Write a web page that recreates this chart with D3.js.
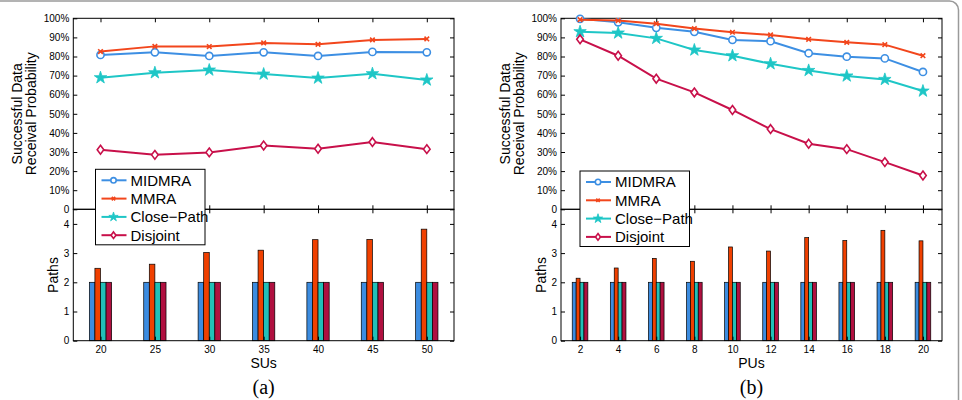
<!DOCTYPE html>
<html>
<head>
<meta charset="utf-8">
<script src="https://cdn.jsdelivr.net/npm/d3@7"></script>
<style>
  body { margin: 0; background: #fff; }
  svg { display: block; font-family: "Liberation Sans", Arial, sans-serif; }
  .axis text { font-size: 10px; fill: #000; }
  .axis path, .axis line { stroke: #000; stroke-width: 1; }
</style>
</head>
<body>
<script>
let width = 962,
    height = 400;

// categories
let suCats = [20, 25, 30, 35, 40, 45, 50];
let puCats = [2, 4, 6, 8, 10, 12, 14, 16, 18, 20];
let seriesNames = ["MIDMRA", "MMRA", "Close\u2212Path", "Disjoint"];

// (a) success probability vs SUs, in percent
let suMidmra   = [80.8, 82.2, 80.3, 82.2, 80.3, 82.4, 82.2];
let suMmra     = [82.6, 85.3, 85.2, 87.1, 86.4, 88.7, 89.2];
let suClose    = [68.9, 71.5, 72.9, 70.8, 68.7, 71.0, 67.7];
let suDisjoint = [31.2, 28.5, 29.8, 33.4, 31.7, 35.2, 31.5];
// (a) number of paths
let suPathsMidmra   = [2, 2, 2, 2, 2, 2, 2];
let suPathsMmra     = [2.48, 2.62, 3.02, 3.10, 3.46, 3.47, 3.82];
let suPathsClose    = [2, 2, 2, 2, 2, 2, 2];
let suPathsDisjoint = [2, 2, 2, 2, 2, 2, 2];

// (b) success probability vs PUs, in percent
let puMidmra   = [99.7, 97.9, 95.0, 92.9, 88.7, 88.0, 81.7, 79.9, 79.0, 71.9];
let puMmra     = [99.3, 98.8, 97.2, 94.6, 92.7, 91.3, 89.0, 87.4, 86.2, 80.4];
let puClose    = [93.0, 92.3, 89.5, 83.4, 80.4, 76.2, 72.7, 69.8, 68.0, 61.9];
let puDisjoint = [89.0, 80.4, 68.4, 61.2, 52.0, 42.0, 34.3, 31.5, 24.7, 17.7];
// (b) number of paths
let puPathsMidmra   = [2, 2, 2, 2, 2, 2, 2, 2, 2, 2];
let puPathsMmra     = [2.14, 2.49, 2.82, 2.72, 3.21, 3.07, 3.53, 3.43, 3.78, 3.42];
let puPathsClose    = [2, 2, 2, 2, 2, 2, 2, 2, 2, 2];
let puPathsDisjoint = [2, 2, 2, 2, 2, 2, 2, 2, 2, 2];

let probTicks = [0, 10, 20, 30, 40, 50, 60, 70, 80, 90, 100];
let pathTicks = [0, 1, 2, 3, 4];

let lineColors = ["#3d8fe3", "#f2461c", "#1ec6c6", "#c8104a"];
let barColors  = ["#3c8ce0", "#f04000", "#22c0b8", "#b01040"];
let markers    = ["circle", "x", "star", "diamond"];

let svg = d3.select('body').append('svg')
    .attr('width', width)
    .attr('height', height);

// outer frame
svg.append('rect')
    .attr('x', -20).attr('y', 1)
    .attr('width', 978.5).attr('height', 440)
    .attr('rx', 9)
    .attr('fill', 'none')
    .attr('stroke', '#9a9a9a')
    .attr('stroke-width', 1.5);

function drawMarker(g, type, x, y, color, s) {
    if (type === 'circle') {
        g.append('circle').attr('cx', x).attr('cy', y).attr('r', 3.6 * s)
            .attr('fill', '#fff').attr('stroke', color).attr('stroke-width', 1.6);
    } else if (type === 'x') {
        let d = 2.3 * s;
        g.append('path')
            .attr('d', `M${x - d},${y - d}L${x + d},${y + d}M${x - d},${y + d}L${x + d},${y - d}`)
            .attr('stroke', color).attr('stroke-width', 1.6);
    } else if (type === 'star') {
        g.append('path')
            .attr('transform', `translate(${x},${y})`)
            .attr('d', d3.symbol(d3.symbolStar, 48 * s * s)())
            .attr('fill', color).attr('stroke', color).attr('stroke-width', 0.8);
    } else {
        let w = 3.3 * s, h = 4.4 * s;
        g.append('path')
            .attr('d', `M${x},${y - h}L${x + w},${y}L${x},${y + h}L${x - w},${y}Z`)
            .attr('fill', '#fff').attr('stroke', color).attr('stroke-width', 1.6);
    }
}

function drawPanel(cfg) {
    let x0 = cfg.x0, x1 = cfg.x1;
    let yTop = 18.3, yMid = 209.3, yBot = 340.7;
    let g = svg.append('g');

    let x = d3.scalePoint().domain(cfg.cats).range([x0, x1]).padding(0.5);
    let yProb = d3.scaleLinear().domain([0, 100]).range([yMid, yTop]);
    let yPath = d3.scaleLinear().domain([0, 4.5]).range([yBot, yMid]);

    // bars
    let groupW = x.step() * 0.41;
    let inner = d3.scaleBand().domain(d3.range(4)).range([-groupW / 2, groupW / 2]);
    cfg.paths.forEach((vals, si) => {
        g.append('g').selectAll('rect').data(vals).enter().append('rect')
            .attr('x', (d, i) => x(cfg.cats[i]) + inner(si))
            .attr('y', d => yPath(d))
            .attr('width', inner.bandwidth())
            .attr('height', d => yPath(0) - yPath(d))
            .attr('fill', barColors[si])
            .attr('stroke', '#000')
            .attr('stroke-width', 0.7);
    });

    // axes, MATLAB style box with inward ticks
    let tick = -4;
    g.append('g').attr('class', 'axis').attr('transform', `translate(${x0},0)`)
        .call(d3.axisLeft(yProb).tickValues(probTicks).tickSize(tick).tickPadding(4)
            .tickFormat(d => d === 0 ? '0' : d + '%'));
    g.append('g').attr('class', 'axis').attr('transform', `translate(${x1},0)`)
        .call(d3.axisRight(yProb).tickValues(probTicks).tickSize(tick).tickFormat(''));
    g.append('g').attr('class', 'axis').attr('transform', `translate(0,${yTop})`)
        .call(d3.axisTop(x).tickSize(tick).tickFormat(''));
    g.append('g').attr('class', 'axis').attr('transform', `translate(0,${yMid})`)
        .call(d3.axisBottom(x).tickSize(tick).tickFormat(''));
    g.append('g').attr('class', 'axis').attr('transform', `translate(0,${yMid})`)
        .call(d3.axisTop(x).tickSize(tick).tickFormat(''));

    g.append('g').attr('class', 'axis').attr('transform', `translate(${x0},0)`)
        .call(d3.axisLeft(yPath).tickValues(pathTicks).tickSize(tick).tickPadding(4)
            .tickFormat(d3.format('d')));
    g.append('g').attr('class', 'axis').attr('transform', `translate(${x1},0)`)
        .call(d3.axisRight(yPath).tickValues(pathTicks).tickSize(tick).tickFormat(''));
    g.append('g').attr('class', 'axis').attr('transform', `translate(0,${yBot})`)
        .call(d3.axisBottom(x).tickSize(tick).tickPadding(5));
    g.selectAll('.axis path').attr('d', null);

    // box outlines
    g.append('rect').attr('x', x0).attr('y', yTop).attr('width', x1 - x0).attr('height', yMid - yTop)
        .attr('fill', 'none').attr('stroke', '#000');
    g.append('rect').attr('x', x0).attr('y', yMid).attr('width', x1 - x0).attr('height', yBot - yMid)
        .attr('fill', 'none').attr('stroke', '#000');

    // lines
    let line = d3.line().x((d, i) => x(cfg.cats[i])).y(d => yProb(d));
    cfg.probs.forEach((vals, si) => {
        g.append('path').datum(vals)
            .attr('d', line)
            .attr('fill', 'none')
            .attr('stroke', lineColors[si])
            .attr('stroke-width', 2);
        vals.forEach((v, i) => drawMarker(g, markers[si], x(cfg.cats[i]), yProb(v), lineColors[si], 1));
    });

    // labels
    let cy = (yTop + yMid) / 2;
    g.append('text').attr('transform', `translate(${x0 - 51},${cy}) rotate(-90)`)
        .attr('text-anchor', 'middle').attr('font-size', 14).text('Successful Data');
    g.append('text').attr('transform', `translate(${x0 - 37},${cy}) rotate(-90)`)
        .attr('text-anchor', 'middle').attr('font-size', 14).text('Receival Probability');
    g.append('text').attr('transform', `translate(${x0 - 15},${(yMid + yBot) / 2}) rotate(-90)`)
        .attr('text-anchor', 'middle').attr('font-size', 14).text('Paths');
    let cx = (x0 + x1) / 2;
    g.append('text').attr('x', cx).attr('y', 368)
        .attr('text-anchor', 'middle').attr('font-size', 14).text(cfg.xLabel);
    g.append('text').attr('x', cx).attr('y', 394)
        .attr('text-anchor', 'middle').attr('font-size', 20)
        .attr('font-family', '"Liberation Serif", "Times New Roman", serif')
        .text(cfg.caption);

    // legend
    let lx = x0 + cfg.legDx, ly = cfg.legY;
    let leg = g.append('g');
    leg.append('rect').attr('x', lx).attr('y', ly).attr('width', 109.5).attr('height', 75.5)
        .attr('fill', '#fff').attr('stroke', '#000').attr('stroke-width', 1);
    seriesNames.forEach((name, si) => {
        let yy = ly + 11 + si * 18.3;
        leg.append('line').attr('x1', lx + 6).attr('x2', lx + 31).attr('y1', yy).attr('y2', yy)
            .attr('stroke', lineColors[si]).attr('stroke-width', 2);
        drawMarker(leg, markers[si], lx + 18, yy, lineColors[si], 0.75);
        leg.append('text').attr('x', lx + 35).attr('y', yy + 5.3)
            .attr('font-size', 15).text(name);
    });
}

drawPanel({
    x0: 73.3, x1: 454, cats: suCats,
    probs: [suMidmra, suMmra, suClose, suDisjoint],
    paths: [suPathsMidmra, suPathsMmra, suPathsClose, suPathsDisjoint],
    xLabel: 'SUs', caption: '(a)', legDx: 22.2, legY: 169.3
});
drawPanel({
    x0: 561, x1: 942, cats: puCats,
    probs: [puMidmra, puMmra, puClose, puDisjoint],
    paths: [puPathsMidmra, puPathsMmra, puPathsClose, puPathsDisjoint],
    xLabel: 'PUs', caption: '(b)', legDx: 19, legY: 171
});
</script>
</body>
</html>
